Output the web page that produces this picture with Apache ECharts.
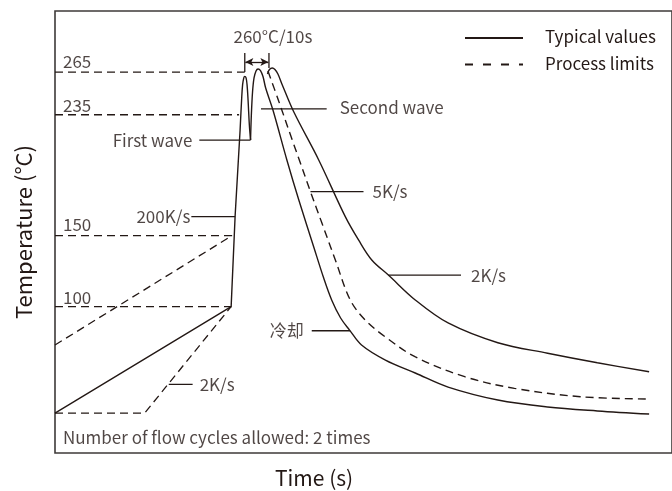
<!DOCTYPE html>
<html>
<head>
<meta charset="utf-8">
<script src="https://cdn.jsdelivr.net/npm/echarts@6/dist/echarts.min.js"></script>
<style>
html,body{margin:0;padding:0;background:#fff;}
#c{width:672px;height:491px;}
</style>
</head>
<body>
<div id="c"></div>
<script>
// ---- data (schematic time units, temperature in °C) ----
const levelValues = [265, 235, 150, 100];
const levelEndTime = [95.35, 92.5, 90.5, 88.5];

const typicalPreheat = [[0,25],[88.5,100],[90.5,163.8],[93,224.3]];
const firstWave = [[93,224.3],[93.75,245.4],[94.25,256],[94.85,260.9],[95.35,262],[96,260.9],[96.5,256],[97,245.4],[97.65,227.8],[98.25,217.2]];
const secondWaveFastCooling = [[98.25,217.2],[98.65,234.8],[99.25,251],[100,260.9],[101,265.8],[102,267.2],[103.25,266.1],[104.5,261.9],[105.85,253.8],[109.5,238.3],[116.5,203.2],[122.5,175],[130,142],[135,120.1],[139,104.7],[143.5,92],[148,83.5],[154,73],[166,62.4],[181,53.3],[197.5,43.4],[222.5,34.3],[247.5,29.4],[272.5,26.6],[298.5,24.4]];
const slowCooling = [[106.75,263.7],[107.75,266.8],[109.15,267.9],[110.5,266.8],[112,263.7],[114,256.7],[120,236.9],[132.5,203.2],[145.85,163.3],[152.5,146.9],[159.15,132.8],[167.5,122.2],[181,104.7],[197.5,88.5],[222.5,74.6],[247.5,67.2],[272.5,60.5],[298.5,54.2]];
const limitCooling = [[107,265.8],[112.2,245.4],[119.2,217.2],[122.75,203.2],[128.35,180.9],[134.15,158.6],[140.85,132.8],[148.35,104.7],[155.85,90.6],[165.85,78.8],[180.85,64.8],[205.85,50.7],[230.85,42.5],[264,36.6],[297.5,35]];
const limitPreheatUpper = [[0,73],[89,150]];
const limitPreheatLower = [[0,25],[45,25],[88.5,100]];

// peak-time window 260°C/10s
const windowStart = 95.35, windowEnd = 107.5;

// ---- styling ----
const INK = '#231815';
const FONT = '"Noto Sans CJK SC"';
const FS = 17;
const DASH = [8,5];

const series = [];
function line(data, opts){
  series.push(Object.assign({
    type:'line', data:data, symbol:'none', silent:true,
    lineStyle:{color:INK, width:1.4, type:'solid'}
  }, opts||{}));
}
// level reference dashes
levelValues.forEach((v,i)=>{
  line([[0,v],[levelEndTime[i],v]], {lineStyle:{color:INK,width:1.3,type:DASH}});
});
// curves
line(typicalPreheat);
line(firstWave, {smooth:0.35});
line(secondWaveFastCooling, {smooth:0.35});
line(slowCooling, {smooth:0.35});
line(limitCooling, {smooth:0.35, lineStyle:{color:INK,width:1.4,type:DASH}});
line(limitPreheatUpper, {lineStyle:{color:INK,width:1.3,type:DASH}});
line(limitPreheatLower, {lineStyle:{color:INK,width:1.3,type:DASH}});

// leader lines [x0,x1,y]
const leaders = [
  [72.5, 98.25, 217.2],   // First wave
  [103.5, 136.5, 239.1],  // Second wave
  [68.5, 90.5, 163.3],    // 200K/s
  [128.35, 155, 180.9],   // 5K/s
  [167.5, 204, 122.2],    // 2K/s cooling
  [129, 148.3, 83],       // 冷却
  [57.15, 69.15, 45.3]    // 2K/s preheat
];
leaders.forEach(l=>line([[l[0],l[2]],[l[1],l[2]]], {lineStyle:{color:INK,width:1.3}}));

// window ticks
line([[windowStart,265.1],[windowStart,278.5]], {lineStyle:{color:INK,width:1.3}});
line([[windowEnd,267.9],[windowEnd,278.5]], {lineStyle:{color:INK,width:1.3}});
series.push({
  type:'line', data:[], silent:true,
  markLine:{
    silent:true, animation:false,
    symbol:['arrow','arrow'], symbolSize:[6,8],
    label:{show:false},
    lineStyle:{color:INK,width:1.3,type:'solid'},
    data:[[{coord:[windowStart+0.3,272.1]},{coord:[windowEnd-0.3,272.1]}]]
  }
});

// annotations [text, x, y, position, distance, offsetY]
const anns = [
  ['265', 4, 265, 'right', 0, -11],
  ['235', 4, 235, 'right', 0, -9],
  ['150', 4, 150, 'right', 0, -11],
  ['100', 4, 100, 'right', 0, -9],
  ['First wave', 72.5, 216.5, 'left', 7, 0],
  ['Second wave', 136.5, 239.1, 'right', 13, -1],
  ['200K/s', 68.5, 163.3, 'left', 1, 0],
  ['5K/s', 155, 180.9, 'right', 9, 0],
  ['2K/s', 204, 122.2, 'right', 10, 0],
  ['冷却', 129, 83, 'left', 8, 0],
  ['2K/s', 69.15, 45.3, 'right', 7, 0],
  ['260°C/10s', 109.5, 289.7, 'inside', 0, 0],
  ['Number of flow cycles allowed: 2 times', 4, 7.6, 'right', 0, 0]
];
series.push({
  type:'scatter', silent:true, symbolSize:0,
  data: anns.map(a=>({
    value:[a[1],a[2]], name:a[0],
    label:{show:true, formatter:a[0], position:a[3], distance:a[4], offset:[0,a[5]],
      color:INK, fontFamily:FONT, fontSize:FS}
  }))
});

const chart = echarts.init(document.getElementById('c'), null, {renderer:'canvas'});
chart.setOption({
  animation:false,
  backgroundColor:'#fff',
  grid:{left:55, right:-3, top:11, bottom:38, show:true, borderColor:'#3e3a39', borderWidth:1.6, backgroundColor:'transparent'},
  xAxis:{type:'value', min:0, max:310, axisLine:{show:false}, axisTick:{show:false}, axisLabel:{show:false}, splitLine:{show:false}},
  yAxis:{type:'value', min:-3, max:308, axisLine:{show:false}, axisTick:{show:false}, axisLabel:{show:false}, splitLine:{show:false},
    name:'Temperature (°C)', nameLocation:'middle', nameGap:20, nameRotate:90,
    nameTextStyle:{color:INK, fontFamily:FONT, fontSize:22}},
  graphic:[
    {type:'text', style:{x:275, y:478, text:'Time (s)', fill:INK, font:'21px "Noto Sans CJK SC"', align:'left', verticalAlign:'middle'}},
    {type:'line', shape:{x1:465,y1:38,x2:523,y2:38}, style:{stroke:INK, lineWidth:2}},
    {type:'line', shape:{x1:465,y1:64.5,x2:523,y2:64.5}, style:{stroke:INK, lineWidth:2, lineDash:[8,10]}},
    {type:'text', style:{x:545, y:37, text:'Typical values', fill:INK, font:FS+'px "Noto Sans CJK SC"', verticalAlign:'middle'}},
    {type:'text', style:{x:545, y:64, text:'Process limits', fill:INK, font:FS+'px "Noto Sans CJK SC"', verticalAlign:'middle'}}
  ],
  series: series
});
</script>
</body>
</html>
